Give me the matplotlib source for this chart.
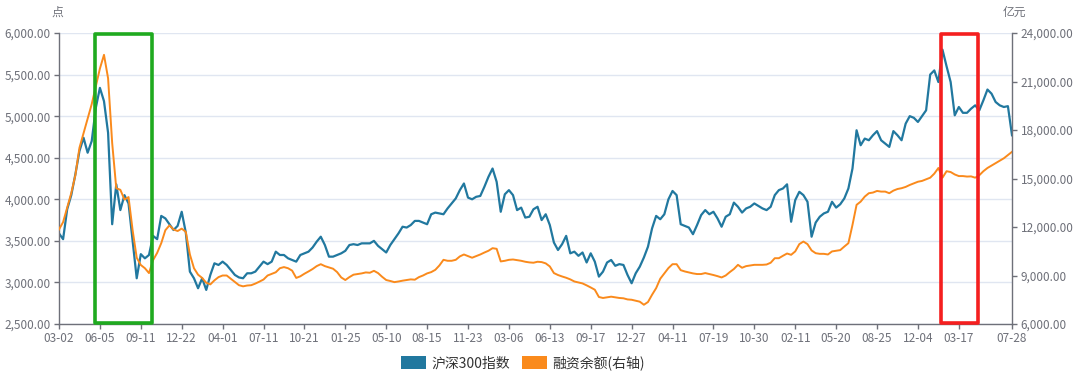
import numpy as np
import matplotlib
matplotlib.use("Agg")
import matplotlib.pyplot as plt
import matplotlib.transforms as mtransforms
from matplotlib.patches import Patch, Rectangle

plt.rcParams['font.family'] = ['Noto Sans CJK SC', 'DejaVu Sans']

# tick labels of the category axis (one label every 10 samples, last one at the end)
tick_labels = ['03-02', '06-05', '09-11', '12-22', '04-01', '07-11', '10-21', '01-25',
               '05-10', '08-15', '11-23', '03-06', '06-13', '09-17', '12-27', '04-11',
               '07-19', '10-30', '02-11', '05-20', '08-25', '12-04', '03-17', '07-28']

# 沪深300指数 (points)
hs300 = [
    3590, 3520, 3880, 4050, 4300, 4580, 4740, 4560, 4700, 5100, 5340, 5180, 4800, 3700, 4180,
    3870, 4050, 3950, 3500, 3050, 3340, 3290, 3330, 3560, 3520, 3800, 3770, 3700, 3630,
    3680, 3850, 3600, 3130, 3050, 2930, 3050, 2910, 3090, 3230, 3210, 3250, 3210, 3150, 3090,
    3060, 3050, 3110, 3110, 3130, 3190, 3250, 3220, 3250, 3370, 3330, 3330, 3290, 3270,
    3250, 3330, 3350, 3370, 3420, 3490, 3550, 3450, 3310, 3310, 3330, 3350, 3380, 3450, 3460,
    3450, 3470, 3470, 3470, 3500, 3440, 3400, 3360, 3450, 3520, 3590, 3670, 3660, 3690, 3740,
    3740, 3720, 3700, 3820, 3840, 3830, 3820, 3890, 3950, 4010, 4110, 4190, 4020, 4000, 4030,
    4040, 4150, 4270, 4370, 4210, 3850, 4060, 4110, 4050, 3870, 3900, 3780, 3790, 3880,
    3910, 3750, 3820, 3690, 3480, 3390, 3460, 3560, 3350, 3370, 3320, 3360, 3240, 3350, 3250,
    3070, 3130, 3240, 3270, 3200, 3220, 3210, 3090, 2990, 3110, 3190, 3300, 3430, 3650,
    3800, 3760, 3820, 4000, 4100, 4050, 3700, 3680, 3660, 3580, 3690, 3810, 3870, 3820, 3850,
    3770, 3670, 3790, 3820, 3960, 3910, 3840, 3890, 3910, 3950, 3920, 3890, 3870, 3910, 4050,
    4110, 4130, 4180, 3730, 3990, 4090, 4050, 3970, 3550, 3720, 3790, 3830, 3850, 3970, 3900,
    3940, 4010, 4130, 4370, 4830, 4650, 4730, 4710, 4770, 4820, 4710, 4670, 4630, 4820,
    4770, 4710, 4910, 5000, 4980, 4930, 5000, 5070, 5500, 5550, 5410, 5800, 5600, 5410, 5010,
    5110, 5040, 5040, 5090, 5130, 5070, 5190, 5320, 5270, 5170, 5130, 5110, 5120, 4770,
]

# 融资余额 (亿元, right axis)
margin = [
    11850, 12300, 13200, 14100, 15200, 16900, 17800, 18700, 19600, 20700, 21800, 22650, 21200,
    17200, 14400, 14300, 13700, 13850, 11800, 10100, 9650, 9450, 9150, 9950, 10400, 11000,
    11800, 12100, 11850,
    11750, 11900, 11700, 10300, 9450, 9050, 8850, 8550, 8450, 8700, 8900, 9000, 9000, 8800,
    8600, 8400, 8330, 8380, 8400, 8500, 8620, 8750, 9000, 9100, 9200, 9450, 9520, 9450, 9300,
    8850, 8950, 9110, 9250, 9400, 9580, 9700, 9580, 9500, 9420, 9210, 8880, 8720, 8900, 9050,
    9090, 9130, 9190, 9170, 9290, 9150, 8920, 8720, 8660, 8590, 8630, 8680, 8720, 8760, 8740,
    8900, 9000, 9130, 9210, 9350, 9620, 9970, 9910, 9910, 9970, 10180, 10300, 10200, 10100,
    10200, 10300, 10420, 10530, 10690, 10650, 9870, 9910, 9970, 9990, 9950, 9910, 9850, 9810, 9790,
    9850, 9830, 9750, 9560, 9150, 9030, 8940, 8860, 8760, 8630, 8570, 8510, 8390, 8260, 8120,
    7670, 7610, 7650, 7690, 7650, 7610, 7590, 7520, 7500, 7440, 7380, 7190, 7360, 7810,
    8220, 8800, 9130, 9460, 9700, 9700, 9330, 9250, 9190, 9130, 9090, 9090, 9150, 9090, 9030,
    8960, 8880, 9000, 9210, 9400, 9660, 9480, 9580, 9620, 9660, 9660, 9660, 9680, 9790, 10070,
    10070, 10220, 10360, 10280, 10490, 10940, 11100, 10940, 10550, 10380, 10340, 10340, 10300,
    10490, 10530, 10570, 10790, 11000, 12130, 13370, 13570, 13880, 14090, 14130, 14230, 14190,
    14190, 14090, 14250,
    14350, 14400, 14480, 14600, 14700, 14800, 14850, 14950, 15050, 15300, 15650, 15050, 15450,
    15400, 15250, 15150, 15150, 15120, 15130, 15050, 15200, 15450, 15650, 15800, 15950, 16100,
    16250, 16450, 16650,
]

series_names = ['沪深300指数', '融资余额(右轴)']

BLUE = '#21789f'
ORANGE = '#fa8a1c'
AXIS = '#6E7079'
GRID = '#E0E6F1'

x = np.arange(len(hs300))

fig = plt.figure(figsize=(10.8, 3.75), dpi=100)
ax = fig.add_axes([59 / 1080, 1 - 324 / 375, (1012 - 59) / 1080, (324 - 33) / 375])
ax2 = ax.twinx()

ax.plot(x, hs300, color=BLUE, lw=1.6, solid_joinstyle='round')
ax2.plot(x, margin, color=ORANGE, lw=1.4, solid_joinstyle='round')

ax.set_xlim(0, len(x) - 1)
ax.set_ylim(2500, 6000)
ax2.set_ylim(6000, 24000)
ax.set_yticks(np.arange(2500, 6001, 500))
ax2.set_yticks(np.arange(6000, 24001, 3000))
ax.yaxis.set_major_formatter(lambda v, p: f'{v:,.2f}')
ax2.yaxis.set_major_formatter(lambda v, p: f'{v:,.2f}')

ticks = list(range(0, 10 * (len(tick_labels) - 1), 10)) + [len(x) - 1]
ax.set_xticks(ticks)
ax.set_xticklabels(tick_labels)

ax.grid(axis='y', color=GRID, lw=1)
ax.set_axisbelow(True)

for a in (ax, ax2):
    for s in a.spines.values():
        s.set_visible(False)
    a.tick_params(colors=AXIS, labelcolor=AXIS, labelsize=8.5, length=3.6, width=1, pad=2.5)
ax.spines['left'].set_visible(True)
ax.spines['bottom'].set_visible(True)
ax2.spines['right'].set_visible(True)
for s in (ax.spines['left'], ax.spines['bottom'], ax2.spines['right']):
    s.set_color(AXIS)
    s.set_linewidth(1)

fig.text(57 / 1080, 1 - 12 / 375, '点', ha='center', va='center', fontsize=8.5, color=AXIS)
fig.text(1014 / 1080, 1 - 12 / 375, '亿元', ha='center', va='center', fontsize=8.5, color=AXIS)

# highlight boxes
trans = mtransforms.blended_transform_factory(ax2.transData, ax2.transAxes)
ax2.add_patch(Rectangle((8.8, 0.003), 13.9, 0.994, transform=trans, fill=False,
                        edgecolor='#1faa1f', lw=2.6, joinstyle='round', clip_on=False, zorder=5))
ax2.add_patch(Rectangle((215.6, 0.003), 9.1, 0.994, transform=trans, fill=False,
                        edgecolor='#f51f1f', lw=2.6, joinstyle='round', clip_on=False, zorder=5))

handles = [Patch(facecolor=BLUE, edgecolor='none'), Patch(facecolor=ORANGE, edgecolor='none')]
fig.legend(handles, series_names, loc='center', bbox_to_anchor=(523 / 1080, 1 - 363 / 375),
           ncol=2, frameon=False, fontsize=10, labelcolor='#333333', handlelength=1.8,
           handleheight=1.0, handletextpad=0.4, columnspacing=0.8)

fig.savefig('out.png', dpi=100)
